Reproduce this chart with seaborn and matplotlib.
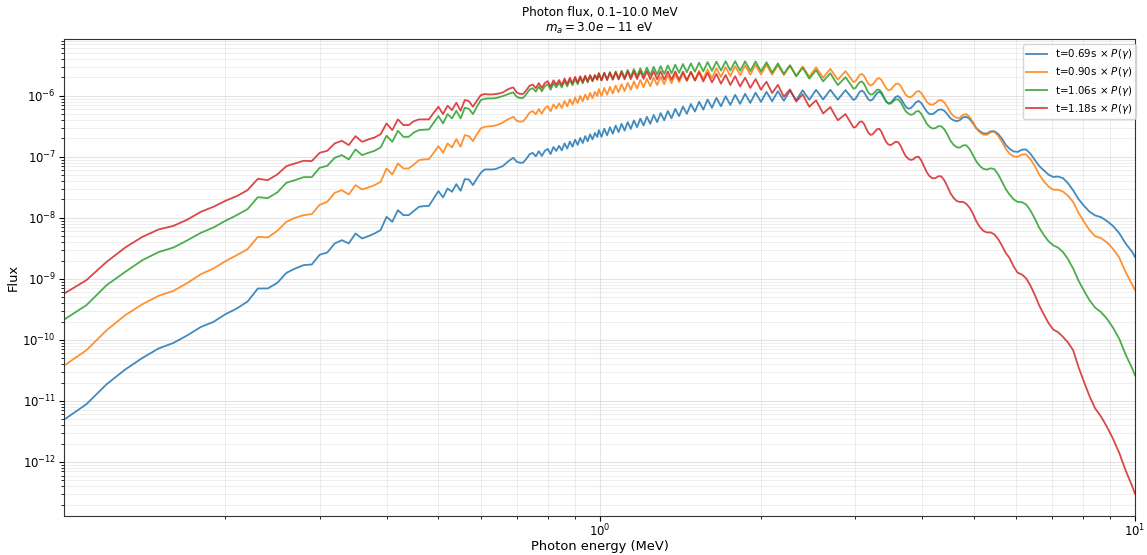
import numpy as np
import matplotlib
matplotlib.use("Agg")
import matplotlib.pyplot as plt
from matplotlib.ticker import LogLocator, LogFormatterSciNotation, NullFormatter, FixedLocator
import seaborn as sns

# Photon energy grid (MeV)
energy_mev = [
    0.10, 0.11, 0.12, 0.13, 0.14, 0.15, 0.16, 0.17, 0.18, 0.19,
    0.20, 0.21, 0.22, 0.23, 0.24, 0.25, 0.26, 0.27, 0.28, 0.29,
    0.30, 0.31, 0.32, 0.33, 0.34, 0.35, 0.36, 0.37, 0.38, 0.39,
    0.40, 0.41, 0.42, 0.43, 0.44, 0.45, 0.46, 0.47, 0.48, 0.49,
    0.50, 0.51, 0.52, 0.53, 0.54, 0.55, 0.56, 0.57, 0.58, 0.59,
    0.60, 0.61, 0.62, 0.63, 0.64, 0.65, 0.66, 0.67, 0.68, 0.69,
    0.70, 0.71, 0.72, 0.73, 0.74, 0.75, 0.76, 0.77, 0.78, 0.79,
    0.80, 0.81, 0.82, 0.83, 0.84, 0.85, 0.86, 0.87, 0.88, 0.89,
    0.90, 0.91, 0.92, 0.93, 0.94, 0.95, 0.96, 0.97, 0.98, 0.99,
    0.9966, 1.0083, 1.0204, 1.0328, 1.0454, 1.0584, 1.0717, 1.0853, 1.0993, 1.1136,
    1.1284, 1.1435, 1.1590, 1.1750, 1.1914, 1.2082, 1.2256, 1.2434, 1.2618, 1.2808,
    1.3003, 1.3204, 1.3411, 1.3625, 1.3847, 1.4075, 1.4311, 1.4555, 1.4808, 1.5069,
    1.5340, 1.5621, 1.5912, 1.6214, 1.6528, 1.6855, 1.7194, 1.7548, 1.7916, 1.8300,
    1.8701, 1.9120, 1.9559,
    2.0018, 2.0255, 2.0498, 2.0747, 2.1003, 2.1264, 2.1533, 2.1808, 2.2090, 2.2380,
    2.2677, 2.2983, 2.3296, 2.3618, 2.3950, 2.4291, 2.4642, 2.5003, 2.5374, 2.5757,
    2.6152, 2.6559, 2.6979, 2.7412, 2.7859, 2.8321, 2.8799, 2.9294,
    2.9805, 3.0069, 3.0335, 3.0608, 3.0884, 3.1167, 3.1453, 3.1747, 3.2044, 3.2349,
    3.2657, 3.2974, 3.3293, 3.3623, 3.3956, 3.4298, 3.4646, 3.5002, 3.5363, 3.5735,
    3.6112, 3.6499, 3.6892, 3.7297, 3.7707, 3.8130, 3.8559, 3.9002, 3.9451, 3.9914,
    4.0384, 4.0870, 4.1362, 4.1873, 4.2389, 4.2926, 4.3469, 4.4033, 4.4605, 4.5198,
    4.5802, 4.6427, 4.7065, 4.7726, 4.8400, 4.9099, 4.9813, 5.0554, 5.1311, 5.2097,
    5.2902, 5.3737, 5.4594, 5.5485, 5.6395, 5.7349, 5.8323, 5.9344, 6.0386, 6.1482,
    6.2602, 6.3780, 6.4986, 6.6256, 6.7558, 6.8932, 7.0343, 7.1829, 7.3367, 7.4985,
    7.6658, 7.8431, 8.0263, 8.2210, 8.4225, 8.6371, 8.8598, 9.0975, 9.3449, 9.6098,
    9.8863, 10.0,
]

# log10 of the flux for each exposure time
log_flux_t069 = [
    -11.305, -11.054, -10.726, -10.485, -10.295, -10.141, -10.049, -9.923, -9.787, -9.705,
    -9.579, -9.486, -9.371, -9.157, -9.157, -9.066, -8.902, -8.830, -8.775, -8.764,
    -8.605, -8.568, -8.420, -8.366, -8.420, -8.256, -8.338, -8.300, -8.256, -8.200,
    -7.983, -8.065, -7.874, -7.956, -7.956, -7.885, -7.819, -7.808, -7.803, -7.682,
    -7.562, -7.666, -7.519, -7.573, -7.448, -7.557, -7.366, -7.371, -7.464, -7.355,
    -7.262, -7.207, -7.207, -7.207, -7.200, -7.174, -7.152, -7.098, -7.054, -7.016,
    -7.080, -7.097, -7.094, -7.031, -6.958, -6.935, -6.992, -6.909, -6.986, -6.903,
    -6.870, -6.955, -6.840, -6.905, -6.820, -6.895, -6.780, -6.865, -6.750, -6.835,
    -6.720, -6.805, -6.690, -6.775, -6.660, -6.745, -6.630, -6.715, -6.610, -6.675,
    -6.563, -6.672, -6.540, -6.649, -6.515, -6.622, -6.488, -6.595, -6.460, -6.570,
    -6.432, -6.543, -6.404, -6.515, -6.373, -6.487, -6.344, -6.460, -6.315, -6.431,
    -6.284, -6.401, -6.250, -6.368, -6.214, -6.333, -6.176, -6.296, -6.135, -6.258,
    -6.098, -6.227, -6.061, -6.197, -6.034, -6.172, -6.008, -6.150, -5.985, -6.132,
    -5.968, -6.117, -5.949,
    -6.100, -6.020, -5.935, -6.010, -6.090, -6.007, -5.925, -6.002, -6.080, -5.998,
    -5.917, -5.995, -6.073, -5.991, -5.910, -5.988, -6.066, -5.985, -5.903, -5.982,
    -6.061, -5.981, -5.902, -5.983, -6.064, -5.986, -5.907, -5.988,
    -6.070, -6.048, -5.992, -5.936, -5.914, -5.939, -5.997, -6.056, -6.080, -6.062,
    -6.010, -5.956, -5.936, -5.966, -6.030, -6.095, -6.125, -6.112, -6.065, -6.018,
    -6.005, -6.041, -6.110, -6.177, -6.210, -6.202, -6.160, -6.106, -6.085, -6.121,
    -6.190, -6.262, -6.300, -6.302, -6.270, -6.230, -6.224, -6.245, -6.300, -6.367,
    -6.400, -6.417, -6.400, -6.355, -6.344, -6.380, -6.450, -6.532, -6.580, -6.617,
    -6.620, -6.583, -6.580, -6.623, -6.700, -6.802, -6.870, -6.912, -6.920, -6.883,
    -6.880, -6.948, -7.050, -7.152, -7.220, -7.292, -7.330, -7.323, -7.350, -7.433,
    -7.550, -7.692, -7.800, -7.897, -7.960, -7.988, -8.050, -8.133, -8.250, -8.422,
    -8.560, -8.640,
]

log_flux_t090 = [
    -10.420, -10.169, -9.841, -9.595, -9.415, -9.278, -9.196, -9.065, -8.923, -8.830,
    -8.710, -8.612, -8.513, -8.311, -8.322, -8.213, -8.065, -7.999, -7.956, -7.939,
    -7.786, -7.737, -7.590, -7.546, -7.617, -7.464, -7.535, -7.502, -7.464, -7.409,
    -7.191, -7.289, -7.109, -7.191, -7.191, -7.125, -7.054, -7.043, -7.038, -6.934,
    -6.825, -6.934, -6.781, -6.847, -6.710, -6.836, -6.644, -6.661, -6.743, -6.628,
    -6.535, -6.508, -6.502, -6.497, -6.486, -6.464, -6.437, -6.398, -6.371, -6.344,
    -6.409, -6.424, -6.418, -6.352, -6.276, -6.250, -6.304, -6.218, -6.292, -6.206,
    -6.170, -6.256, -6.142, -6.208, -6.124, -6.200, -6.086, -6.172, -6.058, -6.144,
    -6.030, -6.117, -6.004, -6.091, -5.978, -6.065, -5.952, -6.039, -5.936, -6.003,
    -5.890, -6.003, -5.874, -5.984, -5.854, -5.963, -5.833, -5.942, -5.811, -5.923,
    -5.788, -5.901, -5.765, -5.881, -5.742, -5.860, -5.722, -5.843, -5.704, -5.826,
    -5.684, -5.809, -5.667, -5.793, -5.648, -5.776, -5.629, -5.758, -5.608, -5.740,
    -5.588, -5.725, -5.569, -5.709, -5.549, -5.690, -5.530, -5.676, -5.515, -5.664,
    -5.502, -5.654, -5.492,
    -5.650, -5.570, -5.490, -5.573, -5.655, -5.576, -5.497, -5.579, -5.660, -5.583,
    -5.506, -5.590, -5.673, -5.596, -5.520, -5.603, -5.687, -5.610, -5.534, -5.618,
    -5.703, -5.630, -5.560, -5.648, -5.737, -5.666, -5.596, -5.686,
    -5.776, -5.759, -5.708, -5.658, -5.642, -5.672, -5.736, -5.801, -5.831, -5.818,
    -5.770, -5.723, -5.710, -5.743, -5.810, -5.877, -5.910, -5.897, -5.850, -5.808,
    -5.800, -5.838, -5.910, -5.982, -6.020, -6.022, -5.990, -5.938, -5.920, -5.958,
    -6.030, -6.102, -6.140, -6.147, -6.120, -6.078, -6.070, -6.108, -6.180, -6.272,
    -6.330, -6.362, -6.360, -6.313, -6.300, -6.348, -6.430, -6.532, -6.600, -6.637,
    -6.640, -6.598, -6.590, -6.653, -6.750, -6.867, -6.950, -6.992, -7.000, -6.963,
    -6.960, -7.038, -7.150, -7.292, -7.400, -7.487, -7.540, -7.538, -7.570, -7.638,
    -7.740, -7.917, -8.060, -8.197, -8.300, -8.333, -8.400, -8.508, -8.650, -8.892,
    -9.100, -9.180,
]

log_flux_t106 = [
    -9.666, -9.431, -9.103, -8.885, -8.693, -8.562, -8.486, -8.366, -8.245, -8.158,
    -8.049, -7.956, -7.857, -7.661, -7.677, -7.584, -7.426, -7.382, -7.333, -7.333,
    -7.180, -7.147, -7.016, -6.972, -7.043, -6.879, -6.972, -6.934, -6.901, -6.846,
    -6.655, -6.754, -6.573, -6.672, -6.672, -6.601, -6.562, -6.557, -6.551, -6.442,
    -6.333, -6.453, -6.300, -6.371, -6.245, -6.371, -6.196, -6.213, -6.300, -6.180,
    -6.070, -6.049, -6.043, -6.043, -6.038, -6.021, -6.005, -5.983, -5.961, -5.945,
    -6.016, -6.037, -6.034, -5.971, -5.898, -5.875, -5.932, -5.849, -5.926, -5.843,
    -5.810, -5.901, -5.792, -5.863, -5.784, -5.865, -5.756, -5.847, -5.738, -5.829,
    -5.720, -5.812, -5.704, -5.796, -5.688, -5.780, -5.672, -5.764, -5.666, -5.738,
    -5.631, -5.747, -5.622, -5.737, -5.612, -5.727, -5.601, -5.716, -5.590, -5.707,
    -5.577, -5.695, -5.563, -5.683, -5.549, -5.672, -5.537, -5.662, -5.526, -5.652,
    -5.514, -5.642, -5.503, -5.632, -5.491, -5.623, -5.480, -5.614, -5.469, -5.606,
    -5.458, -5.601, -5.447, -5.593, -5.440, -5.587, -5.434, -5.587, -5.433, -5.589,
    -5.435, -5.595, -5.438,
    -5.600, -5.525, -5.450, -5.535, -5.620, -5.545, -5.470, -5.555, -5.643, -5.570,
    -5.500, -5.590, -5.680, -5.610, -5.540, -5.630, -5.720, -5.650, -5.580, -5.672,
    -5.764, -5.697, -5.630, -5.730, -5.825, -5.760, -5.695, -5.790,
    -5.885, -5.870, -5.820, -5.776, -5.765, -5.801, -5.870, -5.942, -5.980, -5.977,
    -5.940, -5.903, -5.900, -5.943, -6.020, -6.092, -6.130, -6.127, -6.090, -6.058,
    -6.060, -6.103, -6.180, -6.252, -6.290, -6.312, -6.300, -6.258, -6.250, -6.298,
    -6.380, -6.462, -6.510, -6.537, -6.530, -6.498, -6.500, -6.548, -6.630, -6.732,
    -6.800, -6.842, -6.850, -6.813, -6.810, -6.873, -6.970, -7.077, -7.150, -7.197,
    -7.210, -7.188, -7.200, -7.283, -7.400, -7.527, -7.620, -7.697, -7.740, -7.743,
    -7.780, -7.878, -8.010, -8.162, -8.280, -8.382, -8.450, -8.488, -8.560, -8.678,
    -8.830, -9.027, -9.190, -9.347, -9.470, -9.543, -9.650, -9.798, -9.980, -10.242,
    -10.470, -10.580,
]

log_flux_t118 = [
    -9.240, -9.021, -8.721, -8.486, -8.311, -8.191, -8.131, -8.027, -7.901, -7.819,
    -7.721, -7.644, -7.546, -7.360, -7.382, -7.289, -7.153, -7.109, -7.065, -7.071,
    -6.934, -6.901, -6.781, -6.737, -6.808, -6.661, -6.754, -6.715, -6.683, -6.628,
    -6.453, -6.562, -6.387, -6.480, -6.480, -6.415, -6.387, -6.387, -6.387, -6.278,
    -6.180, -6.300, -6.163, -6.235, -6.114, -6.245, -6.070, -6.087, -6.180, -6.082,
    -5.989, -5.972, -5.978, -5.978, -5.972, -5.961, -5.945, -5.907, -5.879, -5.863,
    -5.945, -5.969, -5.968, -5.907, -5.836, -5.815, -5.874, -5.793, -5.872, -5.791,
    -5.760, -5.853, -5.746, -5.819, -5.742, -5.825, -5.718, -5.811, -5.704, -5.797,
    -5.690, -5.785, -5.680, -5.775, -5.670, -5.765, -5.660, -5.755, -5.660, -5.735,
    -5.631, -5.748, -5.626, -5.743, -5.621, -5.738, -5.616, -5.733, -5.610, -5.731,
    -5.605, -5.728, -5.601, -5.726, -5.597, -5.724, -5.596, -5.727, -5.598, -5.730,
    -5.599, -5.733, -5.600, -5.736, -5.601, -5.740, -5.604, -5.746, -5.608, -5.753,
    -5.615, -5.766, -5.624, -5.781, -5.641, -5.802, -5.660, -5.823, -5.680, -5.847,
    -5.703, -5.872, -5.727,
    -5.900, -5.830, -5.770, -5.860, -5.955, -5.890, -5.820, -5.920, -6.015, -5.955,
    -5.895, -5.995, -6.095, -6.035, -5.976, -6.080, -6.180, -6.125, -6.075, -6.183,
    -6.290, -6.237, -6.185, -6.295, -6.400, -6.350, -6.300, -6.410,
    -6.520, -6.512, -6.470, -6.428, -6.420, -6.458, -6.530, -6.602, -6.640, -6.632,
    -6.590, -6.548, -6.540, -6.593, -6.680, -6.757, -6.800, -6.807, -6.780, -6.753,
    -6.760, -6.818, -6.910, -6.987, -7.030, -7.052, -7.040, -7.003, -7.000, -7.063,
    -7.160, -7.257, -7.320, -7.352, -7.350, -7.318, -7.320, -7.383, -7.480, -7.592,
    -7.670, -7.722, -7.740, -7.738, -7.770, -7.833, -7.930, -8.057, -8.150, -8.212,
    -8.240, -8.238, -8.270, -8.343, -8.450, -8.572, -8.660, -8.797, -8.900, -8.928,
    -8.990, -9.108, -9.260, -9.437, -9.580, -9.722, -9.830, -9.873, -9.950, -10.043,
    -10.170, -10.442, -10.680, -10.917, -11.120, -11.253, -11.420, -11.618, -11.850, -12.142,
    -12.400, -12.520,
]

series_labels = [
    r"t=0.69s $\times$ $P(\gamma)$",
    r"t=0.90s $\times$ $P(\gamma)$",
    r"t=1.06s $\times$ $P(\gamma)$",
    r"t=1.18s $\times$ $P(\gamma)$",
]
series_colors = ["#1f77b4", "#ff7f0e", "#2ca02c", "#d62728"]
series_values = [log_flux_t069, log_flux_t090, log_flux_t106, log_flux_t118]

# decades labelled on each axis
x_major_ticks = [1.0, 10.0]
y_major_ticks = [1e-12, 1e-11, 1e-10, 1e-9, 1e-8, 1e-7, 1e-6]

fig, ax = plt.subplots(figsize=(11.47, 5.55), dpi=100)
fig.subplots_adjust(left=0.056, right=0.9895, top=0.9297, bottom=0.0703)

energy = np.asarray(energy_mev)
for label, color, logs in zip(series_labels, series_colors, series_values):
    flux = 10.0 ** np.asarray(logs)
    sns.lineplot(x=energy, y=flux, ax=ax, color=color, label=label,
                 linewidth=1.3, alpha=0.85, estimator=None, sort=False)

ax.set_xscale("log")
ax.set_yscale("log")
ax.set_xlim(0.1, 10.0)
ax.set_ylim(10 ** -12.885, 10 ** -5.07)

ax.xaxis.set_major_locator(FixedLocator(x_major_ticks))
ax.xaxis.set_major_formatter(LogFormatterSciNotation())
ax.xaxis.set_minor_locator(LogLocator(base=10, subs=np.arange(2, 10), numticks=20))
ax.xaxis.set_minor_formatter(NullFormatter())
ax.yaxis.set_major_locator(FixedLocator(y_major_ticks))
ax.yaxis.set_major_formatter(LogFormatterSciNotation())
ax.yaxis.set_minor_locator(LogLocator(base=10, subs=np.arange(2, 10), numticks=40))
ax.yaxis.set_minor_formatter(NullFormatter())

ax.grid(True, which="major", color="#b0b0b0", alpha=0.35, linewidth=0.8)
ax.grid(True, which="minor", color="#b0b0b0", alpha=0.25, linewidth=0.6)
ax.tick_params(axis="both", which="major", labelsize=8.4, length=3.5)
ax.tick_params(axis="x", which="major", pad=1.5)
ax.tick_params(axis="y", which="major", pad=2.5)
ax.tick_params(axis="both", which="minor", length=2)
for spine in ax.spines.values():
    spine.set_color("#333333")

ax.set_xlabel("Photon energy (MeV)", fontsize=9.4, labelpad=0.5)
ax.set_ylabel("Flux", fontsize=9.4, labelpad=2)
ax.set_title("Photon flux, 0.1\u201310.0 MeV\n$m_a = 3.0e-11$ eV", fontsize=8.6, pad=5)

ax.legend(loc="upper right", bbox_to_anchor=(1.001, 0.99), borderaxespad=0.0,
          fontsize=7.4, framealpha=0.8, borderpad=0.35, labelspacing=0.4)

fig.savefig("out.png", dpi=100)
